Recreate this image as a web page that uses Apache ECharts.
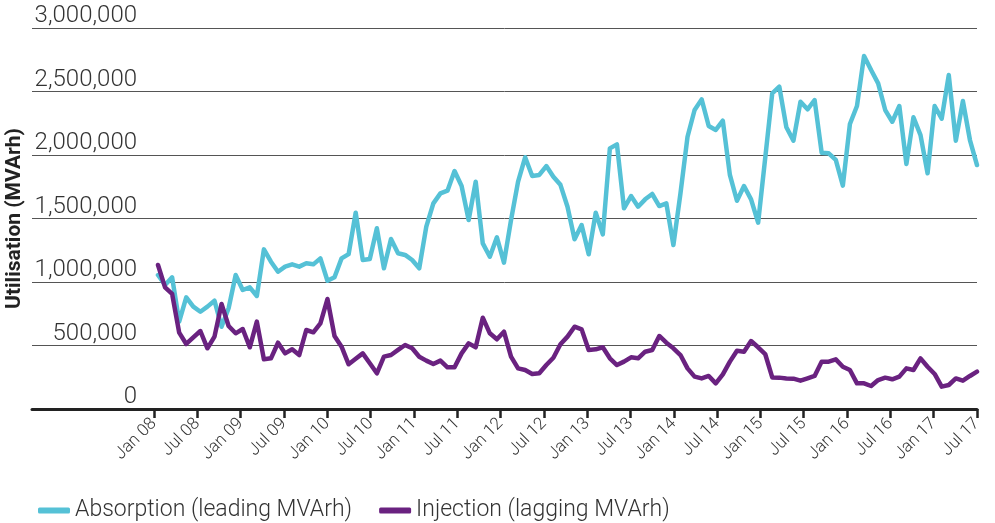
<!DOCTYPE html>
<html>
<head>
<meta charset="utf-8">
<script src="https://cdn.jsdelivr.net/npm/echarts@6/dist/echarts.min.js"></script>
<style>
  html, body { margin: 0; padding: 0; background: #fff; }
  #chart { width: 995px; height: 523px; }
</style>
</head>
<body>
<div id="chart"></div>
<script>
// Half-year tick labels along the time axis
const tickLabels = ['Jan 08','Jul 08','Jan 09','Jul 09','Jan 10','Jul 10','Jan 11','Jul 11','Jan 12','Jul 12',
                    'Jan 13','Jul 13','Jan 14','Jul 14','Jan 15','Jul 15','Jan 16','Jul 16','Jan 17','Jul 17'];

// Series names
const seriesNames = ['Absorption (leading MVArh)', 'Injection (lagging MVArh)'];

// Absorption (leading MVArh), one value per period
const absorption = [
  1055000, 976000, 1037000, 688000, 879000, 806000, 766000, 806000, 853000, 648000,
  793000, 1055000, 937000, 958000, 890000, 1257000, 1160000, 1081000, 1121000, 1139000,
  1121000, 1147000, 1139000, 1186000, 1010000, 1037000, 1186000, 1220000, 1546000, 1173000,
  1181000, 1423000, 1108000, 1339000, 1226000, 1213000, 1173000, 1108000, 1436000, 1619000,
  1698000, 1719000, 1874000, 1756000, 1488000, 1790000, 1304000, 1199000, 1352000, 1152000,
  1488000, 1790000, 1982000, 1835000, 1843000, 1913000, 1829000, 1765000, 1593000, 1336000,
  1449000, 1218000, 1546000, 1375000, 2052000, 2084000, 1580000, 1677000, 1593000, 1651000,
  1693000, 1598000, 1619000, 1291000, 1698000, 2144000, 2354000, 2438000, 2228000, 2197000,
  2270000, 1843000, 1640000, 1756000, 1651000, 1467000, 1974000, 2486000, 2538000, 2218000,
  2113000, 2420000, 2360000, 2433000, 2018000, 2013000, 1961000, 1759000, 2244000, 2386000,
  2780000, 2669000, 2564000, 2354000, 2262000, 2386000, 1929000, 2297000, 2157000, 1856000,
  2386000, 2286000, 2630000, 2113000, 2425000, 2118000, 1921000
];

// Injection (lagging MVArh), one value per period
const injection = [
  1134000, 958000, 906000, 601000, 512000, 564000, 614000, 478000, 570000, 827000,
  654000, 596000, 630000, 486000, 688000, 391000, 399000, 522000, 438000, 470000,
  425000, 622000, 604000, 675000, 866000, 575000, 491000, 352000, 395000, 438000,
  360000, 281000, 412000, 425000, 465000, 504000, 478000, 412000, 381000, 354000,
  381000, 328000, 328000, 438000, 517000, 486000, 719000, 596000, 549000, 609000,
  412000, 320000, 307000, 276000, 281000, 346000, 404000, 510000, 570000, 648000,
  627000, 465000, 470000, 486000, 399000, 346000, 373000, 407000, 399000, 451000,
  465000, 575000, 522000, 478000, 425000, 320000, 255000, 241000, 260000, 202000,
  273000, 373000, 459000, 451000, 535000, 486000, 433000, 249000, 247000, 241000,
  239000, 223000, 241000, 260000, 373000, 373000, 391000, 333000, 307000, 202000,
  202000, 181000, 228000, 247000, 234000, 255000, 320000, 307000, 399000, 333000,
  276000, 176000, 189000, 241000, 223000, 260000, 294000
];

// Period categories (one per data point)
const periods = absorption.map((_, i) => 'P' + (i + 1));

const tickPositions = tickLabels.map((_, i) => i);
const fmt = v => String(v).replace(/\B(?=(\d{3})+(?!\d))/g, ',');
const FONT = 'Roboto, "Liberation Sans", Arial, sans-serif';

const chart = echarts.init(document.getElementById('chart'), null, { renderer: 'canvas' });
chart.setOption({
  animation: false,
  backgroundColor: '#ffffff',
  textStyle: { fontFamily: FONT },
  grid: [
    { left: 32, right: 18, top: 28, bottom: 114, containLabel: false, outerBoundsMode: 'none' },
    { left: 158, right: 18, top: 28, bottom: 114, containLabel: false, outerBoundsMode: 'none' }
  ],
  legend: {
    data: seriesNames,
    left: 33,
    top: 494,
    icon: 'roundRect',
    itemWidth: 32,
    itemHeight: 6,
    itemGap: 27,
    textStyle: { fontFamily: FONT, fontSize: 23, fontWeight: 300, color: '#333' }
  },
  xAxis: [
    {
      gridIndex: 0,
      type: 'value',
      min: -2.816,
      max: 19,
      splitLine: { show: false },
      axisLine: { show: true, onZero: false, lineStyle: { color: '#222', width: 3 } },
      axisTick: { show: true, customValues: tickPositions, length: 9, lineStyle: { color: '#222', width: 2.5 } },
      axisLabel: {
        customValues: tickPositions,
        rotate: 45,
        margin: 12,
        fontFamily: FONT,
        fontSize: 17,
        fontWeight: 300,
        color: '#333',
        formatter: v => tickLabels[Math.round(v)]
      }
    },
    {
      gridIndex: 1,
      type: 'category',
      data: periods,
      boundaryGap: false,
      show: false
    }
  ],
  yAxis: [
    {
      gridIndex: 0,
      type: 'value',
      min: 0,
      max: 3000000,
      interval: 500000,
      axisLine: { show: false },
      axisTick: { show: false },
      splitLine: { lineStyle: { color: '#555', width: 1 } },
      axisLabel: {
        margin: -105,
        verticalAlign: 'bottom',
        fontFamily: FONT,
        fontSize: 24,
        fontWeight: 300,
        color: '#333',
        formatter: v => fmt(v)
      },
      name: 'Utilisation (MVArh)',
      nameLocation: 'middle',
      nameGap: 7,
      nameMoveOverlap: false,
      nameTextStyle: { fontFamily: FONT, fontWeight: 'bold', fontSize: 21, color: '#222' }
    },
    {
      gridIndex: 1,
      type: 'value',
      min: 0,
      max: 3000000,
      show: false
    }
  ],
  series: [
    {
      name: seriesNames[0],
      type: 'line',
      xAxisIndex: 1,
      yAxisIndex: 1,
      data: absorption,
      symbol: 'none',
      color: '#55c1d6',
      lineStyle: { width: 4.5, color: '#55c1d6', join: 'round', cap: 'round' }
    },
    {
      name: seriesNames[1],
      type: 'line',
      xAxisIndex: 1,
      yAxisIndex: 1,
      data: injection,
      symbol: 'none',
      color: '#6a2280',
      lineStyle: { width: 4.5, color: '#6a2280', join: 'round', cap: 'round' }
    }
  ]
});
</script>
</body>
</html>
